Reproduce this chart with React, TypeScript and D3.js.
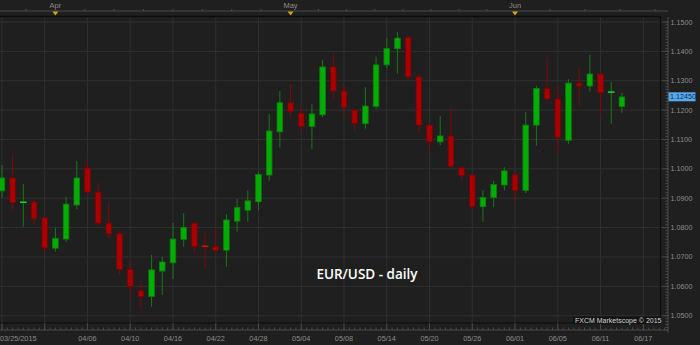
import React from "react";
import * as d3 from "d3";

const dates = [
  "03/25","03/26","03/27","03/30","03/31","04/01","04/02","04/03","04/06","04/07",
  "04/08","04/09","04/10","04/13","04/14","04/15","04/16","04/17","04/20","04/21",
  "04/22","04/23","04/24","04/27","04/28","04/29","04/30","05/01","05/04","05/05",
  "05/06","05/07","05/08","05/11","05/12","05/13","05/14","05/15","05/18","05/19",
  "05/20","05/21","05/22","05/25","05/26","05/27","05/28","05/29","06/01","06/02",
  "06/03","06/04","06/05","06/08","06/09","06/10","06/11","06/12","06/15","06/16","06/17",
];

const open = [
  1.0925,1.0969,1.0884,1.0887,1.0833,1.0730,1.0761,1.0877,1.1003,1.0921,
  1.0815,1.0779,1.0658,1.0585,1.0565,1.0652,1.0680,1.0760,1.0815,1.0737,
  1.0735,1.0723,1.0822,1.0859,1.0888,1.0979,1.1126,1.1225,1.1189,1.1144,
  1.1184,1.1347,1.1265,1.1200,1.1154,1.1213,1.1354,1.1409,1.1448,1.1313,
  1.1149,1.1092,1.1112,1.1004,1.0979,1.0871,1.0902,1.0945,1.0980,1.0926,
  1.1149,1.1274,1.1238,1.1097,1.1292,1.1282,1.1323,1.1259,1.1212,
];
const high = [
  1.1013,1.1051,1.0948,1.0894,1.0840,1.0799,1.0905,1.1027,1.1034,1.0954,
  1.0887,1.0788,1.0684,1.0619,1.0707,1.0701,1.0816,1.0849,1.0820,1.0781,
  1.0801,1.0846,1.0897,1.0926,1.0990,1.1187,1.1265,1.1289,1.1221,1.1221,
  1.1371,1.1391,1.1291,1.1206,1.1278,1.1382,1.1445,1.1467,1.1449,1.1322,
  1.1149,1.1180,1.1206,1.1004,1.0979,1.0928,1.0959,1.1005,1.0985,1.1193,
  1.1283,1.1380,1.1280,1.1305,1.1346,1.1388,1.1323,1.1296,1.1259,
];
const low = [
  1.0902,1.0857,1.0803,1.0811,1.0712,1.0718,1.0751,1.0863,1.0914,1.0805,
  1.0763,1.0639,1.0570,1.0519,1.0531,1.0570,1.0625,1.0735,1.0712,1.0661,
  1.0707,1.0667,1.0786,1.0820,1.0860,1.0960,1.1073,1.1176,1.1121,1.1068,
  1.1176,1.1240,1.1183,1.1132,1.1137,1.1203,1.1342,1.1325,1.1303,1.1121,
  1.1064,1.1081,1.1002,1.0960,1.0862,1.0820,1.0869,1.0926,1.0888,1.0917,
  1.1079,1.1225,1.1050,1.1085,1.1215,1.1263,1.1180,1.1153,1.1191,
];
const close = [
  1.0969,1.0885,1.0887,1.0830,1.0731,1.0763,1.0880,1.0969,1.0921,1.0815,
  1.0779,1.0658,1.0599,1.0565,1.0656,1.0683,1.0761,1.0801,1.0735,1.0735,
  1.0723,1.0826,1.0868,1.0891,1.0981,1.1129,1.1225,1.1195,1.1144,1.1187,
  1.1347,1.1265,1.1210,1.1155,1.1214,1.1354,1.1410,1.1445,1.1313,1.1149,
  1.1092,1.1112,1.1009,1.0977,1.0871,1.0903,1.0947,1.0993,1.0926,1.1149,
  1.1274,1.1238,1.1108,1.1292,1.1282,1.1323,1.1259,1.1262,1.1245,
];

const priceTicks = [1.05, 1.06, 1.07, 1.08, 1.09, 1.10, 1.11, 1.12, 1.13, 1.14, 1.15];
const months = [
  { label: "Apr", date: "04/01" },
  { label: "May", date: "05/01" },
  { label: "Jun", date: "06/01" },
];
const lastPrice = "1.12450";
const title = "EUR/USD - daily";
const copyright = "FXCM Marketscope \u00a9 2015";

const W = 700;
const H = 345;
const PL = 0, PR = 660, PT = 17, PB = 323;
const AXX = 668;
const BG = "#1f1f1f";
const GRID = "#303030";
const AX = "#4b4b4b";
const TXT = "#8c8c8c";
const FONT = "'Liberation Sans', Arial, sans-serif";

export default function App() {
  const x = d3.scalePoint<string>().domain(dates).range([1.94, 643.3]);
  const y = d3.scaleLinear().domain([1.05, 1.15]).range([315.7, 22]);
  const step = x.step();
  const bw = 5.6;

  const gridIdx = d3.range(0, dates.length, 4);
  const halfTicks = d3.range(0, (PR - 0) / (step / 2) + 1).map((k) => 1.94 + (k * step) / 2).filter((v) => v <= AXX);
  const minorPrices = d3.range(1.045, 1.1505, 0.001).filter((v) => y(v) > PT && y(v) < 332);

  // navigator ticks: subdivide between month markers
  const mx = months.map((m) => x(m.date) as number);
  const navTicks: number[] = [];
  const d0 = (mx[1] - mx[0]) / 8;
  for (let t = mx[0] - d0; t > 0; t -= d0) navTicks.push(t);
  for (let k = 0; k < mx.length - 1; k++) {
    const d = (mx[k + 1] - mx[k]) / 8;
    for (let j = 1; j < 8; j++) navTicks.push(mx[k] + j * d);
  }
  const dLast = 35;
  for (let t = mx[2] + dLast; t < AXX - 4; t += dLast) navTicks.push(t);

  const candles = open.map((o, i) => ({
    d: dates[i], o, h: high[i], l: low[i], c: close[i], up: close[i] >= o,
  }));

  return (
    <svg width={W} height={H} style={{ position: "absolute", left: 0, top: 0 }} fontFamily={FONT}>
      <defs>
        <clipPath id="plot">
          <rect x={PL} y={PT} width={PR - PL} height={PB - PT} />
        </clipPath>
      </defs>
      <rect x={0} y={0} width={W} height={H} fill={BG} />

      {/* navigator */}
      <line x1={0} x2={AXX} y1={11} y2={11} stroke={AX} />
      {navTicks.map((t, i) => (
        <line key={i} x1={t} x2={t} y1={9} y2={11} stroke={AX} />
      ))}
      {months.map((m, i) => (
        <g key={m.label}>
          <text x={mx[i]} y={7.5} fontSize={7.5} fill={TXT} textAnchor="middle">{m.label}</text>
          <path d={`M${mx[i] - 3},11.5L${mx[i] + 3},11.5L${mx[i]},15.5Z`} fill="#d4a21a" />
        </g>
      ))}

      {/* grid */}
      <g clipPath="url(#plot)">
        {priceTicks.map((p) => (
          <line key={p} x1={PL} x2={PR} y1={y(p)} y2={y(p)} stroke={GRID} />
        ))}
        {gridIdx.map((i) => (
          <line key={i} x1={x(dates[i])} x2={x(dates[i])} y1={PT} y2={PB} stroke={GRID} />
        ))}
        {candles.map((k) => {
          const cx = x(k.d) as number;
          const yo = y(k.o), yc = y(k.c);
          const top = Math.min(yo, yc);
          const hgt = Math.max(1.2, Math.abs(yo - yc));
          const fill = k.up ? "#00ad00" : "#a80000";
          const stroke = k.up ? "#0b7f0b" : "#7c0000";
          const wick = k.up ? "#167a16" : "#820808";
          return (
            <g key={k.d}>
              <line x1={cx} x2={cx} y1={y(k.h)} y2={y(k.l)} stroke={wick} strokeWidth={1} />
              {Math.abs(yo - yc) < 1.5 ? (
                <rect x={cx - bw / 2 - 0.5} y={top - 0.6} width={bw + 1} height={1.6} fill={k.up ? "#1fd01f" : "#d01010"} />
              ) : (
                <rect x={cx - bw / 2} y={top} width={bw} height={hgt} fill={fill} stroke={stroke} strokeWidth={0.8} />
              )}
            </g>
          );
        })}
      </g>

      {/* plot frame */}
      <line x1={PL} x2={PR + 1} y1={PT - 0.5} y2={PT - 0.5} stroke="#0d0d0d" strokeWidth={1.5} />
      <line x1={PL} x2={PR + 1} y1={PB} y2={PB} stroke="#0d0d0d" strokeWidth={1.2} />
      <line x1={PR + 0.5} x2={PR + 0.5} y1={PT - 1} y2={PB} stroke="#0d0d0d" strokeWidth={1.2} />

      {/* bottom axis */}
      <line x1={0} x2={AXX} y1={330} y2={330} stroke={AX} />
      {halfTicks.map((t, i) => (
        <line key={i} x1={t} x2={t} y1={327.5} y2={330} stroke={AX} />
      ))}
      {gridIdx.map((i) => (
        <line key={i} x1={x(dates[i])} x2={x(dates[i])} y1={PB} y2={330} stroke={AX} />
      ))}
      {gridIdx.filter((i) => i !== 4).map((i) => (
        <text
          key={i}
          x={i === 0 ? 0 : (x(dates[i]) as number)}
          y={340.5}
          fontSize={7.3}
          fill={TXT}
          textAnchor={i === 0 ? "start" : "middle"}
        >
          {i === 0 ? dates[i] + "/2015" : dates[i]}
        </text>
      ))}

      {/* right axis */}
      <line x1={AXX} x2={AXX} y1={PT} y2={333} stroke={AX} />
      {minorPrices.map((p, i) => (
        <line key={i} x1={AXX - 2.5} x2={AXX} y1={y(p)} y2={y(p)} stroke={AX} />
      ))}
      {priceTicks.map((p) => (
        <g key={p}>
          <line x1={PR + 1.5} x2={AXX + 1} y1={y(p)} y2={y(p)} stroke={AX} />
          <text x={AXX + 2.5} y={y(p)} dy="0.35em" fontSize={7.2} fill={TXT}>
            {d3.format(".4f")(p)}
          </text>
        </g>
      ))}

      {/* current price */}
      <rect x={AXX + 0.5} y={y(+lastPrice) - 4.6} width={27} height={9} fill="#5aa9ef" />
      <text x={AXX + 2} y={y(+lastPrice)} dy="0.35em" fontSize={7.2} fill="#0d2a4a">{lastPrice}</text>

      {/* title */}
      <text x={367} y={278.5} fontSize={13.5} fontWeight={600} fill="#ffffff" textAnchor="middle" fontFamily="'Open Sans', 'Noto Sans', sans-serif">
        {title}
      </text>

      {/* copyright */}
      <rect x={573} y={316.5} width={87.5} height={7.5} fill="#121212" />
      <text x={575} y={323} fontSize={7} fill="#d8d8d8">{copyright}</text>
    </svg>
  );
}
